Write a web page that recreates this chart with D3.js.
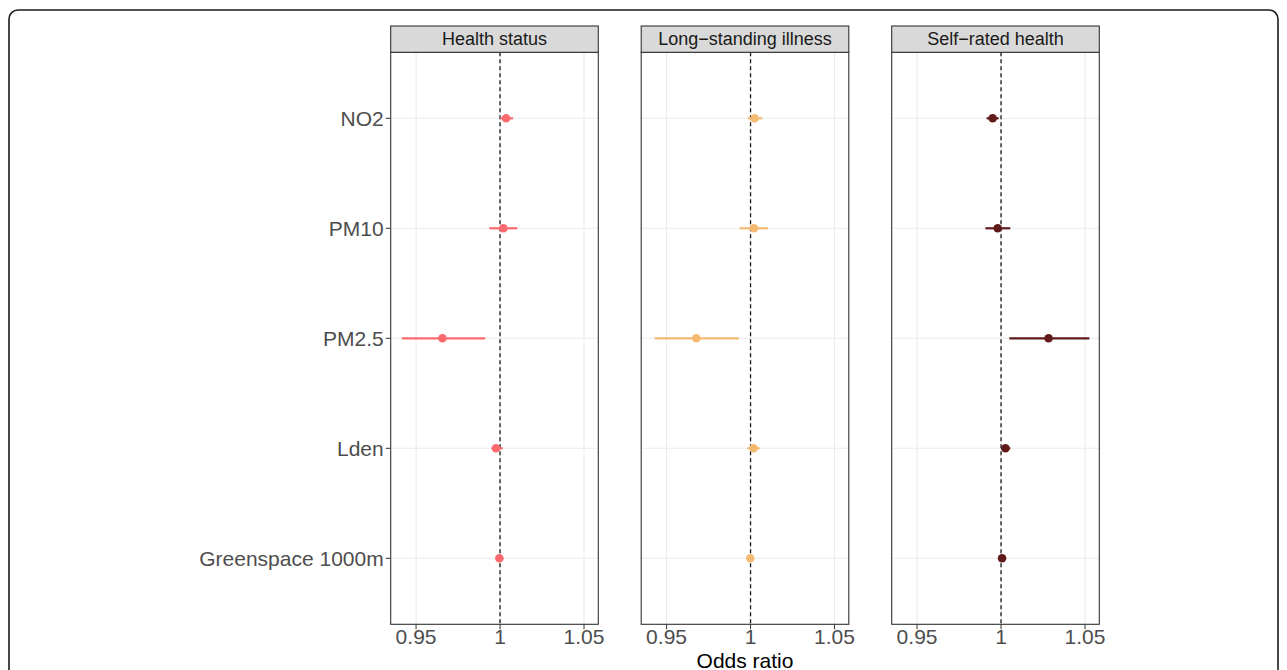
<!DOCTYPE html>
<html>
<head>
<meta charset="utf-8">
<script src="https://cdn.jsdelivr.net/npm/d3@7"></script>
<style>
  body { margin: 0; background: #fff; }
  svg { display: block; font-family: "Liberation Sans", Arial, Helvetica, sans-serif; }
</style>
</head>
<body>
<svg id="chart" width="1287" height="670"></svg>
<script>
var outcomes = ["Health status", "Long\u2212standing illness", "Self\u2212rated health"];
var exposures = ["NO2", "PM10", "PM2.5", "Lden", "Greenspace 1000m"];

// odds ratios and 95% CI, one row per outcome, in exposure order
var oddsRatio = [
    [1.0036, 1.0020, 0.9657, 0.9976, 0.9996],
    [1.0024, 1.0020, 0.9677, 1.0018, 0.9998],
    [0.9950, 0.9980, 1.0283, 1.0026, 1.0006]
];
var ciLow = [
    [1.0000, 0.9936, 0.9415, 0.9950, 0.9990],
    [0.9984, 0.9935, 0.9429, 0.9980, 0.9992],
    [0.9914, 0.9907, 1.0049, 1.0000, 1.0000]
];
var ciHigh = [
    [1.0077, 1.0103, 0.9911, 1.0016, 1.0002],
    [1.0070, 1.0103, 0.9930, 1.0055, 1.0005],
    [0.9986, 1.0055, 1.0526, 1.0055, 1.0012]
];
var xTicks = [0.95, 1, 1.05];
var colors = ["#FA6A6F", "#F5BA72", "#601A1A"];

var svg = d3.select("#chart");

// outer rounded frame
svg.append("rect")
    .attr("x", 9).attr("y", 10)
    .attr("width", 1269).attr("height", 700)
    .attr("rx", 9).attr("ry", 9)
    .attr("fill", "none")
    .attr("stroke", "#1a1a1a")
    .attr("stroke-width", 1.6);

var panelLeft = 390.7, panelStep = 250.5, panelW = 207.6;
var stripTop = 26, plotTop = 52.3, plotBottom = 624.3;

var x = d3.scaleLinear().domain([0.9349, 1.0585]).range([0, panelW]);
var y = d3.scalePoint().domain(exposures).range([plotTop, plotBottom]).padding(0.6);

// y axis labels (left of first panel)
var yAxis = svg.append("g").attr("transform", "translate(" + panelLeft + ",0)");
exposures.forEach(function (e)
{
    yAxis.append("line")
        .attr("x1", -5).attr("x2", 0)
        .attr("y1", y(e)).attr("y2", y(e))
        .attr("stroke", "#333").attr("stroke-width", 1);
    yAxis.append("text")
        .attr("x", -7).attr("y", y(e))
        .attr("text-anchor", "end")
        .attr("dominant-baseline", "central")
        .style("font-size", "21px")
        .attr("fill", "#4d4d4d")
        .text(e);
});

outcomes.forEach(function (name, k)
{
    var g = svg.append("g")
        .attr("transform", "translate(" + (panelLeft + k * panelStep) + ",0)");

    g.append("rect")
        .attr("x", 0).attr("y", plotTop)
        .attr("width", panelW).attr("height", plotBottom - plotTop)
        .attr("fill", "#fff");

    // grid
    g.selectAll(".vgrid").data(xTicks).enter().append("line")
        .attr("x1", function (d) { return x(d); })
        .attr("x2", function (d) { return x(d); })
        .attr("y1", plotTop).attr("y2", plotBottom)
        .attr("stroke", "#ebebeb").attr("stroke-width", 1.1);
    g.selectAll(".hgrid").data(exposures).enter().append("line")
        .attr("x1", 0).attr("x2", panelW)
        .attr("y1", function (d) { return y(d); })
        .attr("y2", function (d) { return y(d); })
        .attr("stroke", "#ebebeb").attr("stroke-width", 1.1);

    // reference line at OR = 1
    g.append("line")
        .attr("x1", x(1)).attr("x2", x(1))
        .attr("y1", plotTop).attr("y2", plotBottom)
        .attr("stroke", "#1a1a1a").attr("stroke-width", 1.3)
        .attr("stroke-dasharray", "4,3");

    // intervals and points
    exposures.forEach(function (e, i)
    {
        g.append("line")
            .attr("x1", x(ciLow[k][i])).attr("x2", x(ciHigh[k][i]))
            .attr("y1", y(e)).attr("y2", y(e))
            .attr("stroke", colors[k]).attr("stroke-width", 2.2);
        g.append("circle")
            .attr("cx", x(oddsRatio[k][i])).attr("cy", y(e))
            .attr("r", 4.3)
            .attr("fill", colors[k]);
    });

    // panel border
    g.append("rect")
        .attr("x", 0).attr("y", plotTop)
        .attr("width", panelW).attr("height", plotBottom - plotTop)
        .attr("fill", "none").attr("stroke", "#333").attr("stroke-width", 1.1);

    // strip
    g.append("rect")
        .attr("x", 0).attr("y", stripTop)
        .attr("width", panelW).attr("height", plotTop - stripTop)
        .attr("fill", "#d9d9d9").attr("stroke", "#333").attr("stroke-width", 1.1);
    g.append("text")
        .attr("x", panelW / 2).attr("y", (stripTop + plotTop) / 2)
        .attr("text-anchor", "middle")
        .attr("dominant-baseline", "central")
        .style("font-size", "18px")
        .attr("fill", "#1a1a1a")
        .text(name);

    // x axis
    var ax = g.append("g").attr("transform", "translate(0," + plotBottom + ")");
    xTicks.forEach(function (t)
    {
        ax.append("line")
            .attr("x1", x(t)).attr("x2", x(t))
            .attr("y1", 0).attr("y2", 5)
            .attr("stroke", "#333").attr("stroke-width", 1);
        ax.append("text")
            .attr("x", x(t)).attr("y", 19.7)
            .attr("text-anchor", "middle")
            .style("font-size", "21px")
            .attr("fill", "#4d4d4d")
            .text(d3.format("")(t));
    });
});

svg.append("text")
    .attr("x", panelLeft + (2 * panelStep + panelW) / 2)
    .attr("y", 667.5)
    .attr("text-anchor", "middle")
    .style("font-size", "21px")
    .attr("fill", "#000")
    .text("Odds ratio");
</script>
</body>
</html>
